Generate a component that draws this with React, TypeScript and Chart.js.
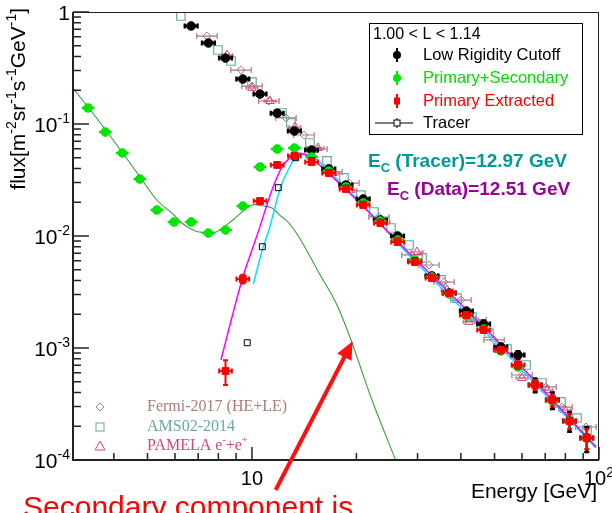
import React, { useEffect, useRef } from "react";
import { Chart, registerables } from "chart.js";

Chart.register(...registerables);

// ---------------- data ----------------
const energyBins = [3.37, 3.78, 4.23, 4.75, 5.32, 5.96, 6.68, 7.49, 8.39, 9.41, 10.55, 11.82, 13.25, 14.85, 16.65, 18.66, 20.92, 23.44, 26.28, 29.46, 33.02, 37.01, 41.48, 46.5, 52.12, 58.42, 65.48, 73.39, 82.27, 92.21];

// Low Rigidity Cutoff (bins 6..29)
const lowCutoffFlux = [0.75, 0.529, 0.388, 0.252, 0.185, 0.125, 0.0866, 0.0586, 0.0397, 0.0285, 0.0214, 0.0139, 0.01, 0.00598, 0.0044, 0.0031, 0.00214, 0.00164, 0.00102, 0.000866, 0.000468, 0.000343, 0.000223, 0.000157];
const lowCutoffErr = [0.04, 0.04, 0.04, 0.04, 0.04, 0.04, 0.04, 0.04, 0.04, 0.04, 0.04, 0.04, 0.05, 0.05, 0.05, 0.05, 0.06, 0.06, 0.07, 0.08, 0.14, 0.17, 0.2, 0.25];

// Primary+Secondary (bins 0..29)
const primSecFlux = [0.139, 0.0848, 0.0551, 0.0323, 0.01706, 0.01334, 0.01334, 0.01064, 0.01132, 0.01852, 0.0413, 0.0598, 0.061, 0.0507, 0.038, 0.0274, 0.01971, 0.01361, 0.00921, 0.0061, 0.00431, 0.00304, 0.00193, 0.00148, 0.00094, 0.000676, 0.000468, 0.000336, 0.000223, 0.000157];
const primSecErr = [0.04, 0.04, 0.04, 0.04, 0.04, 0.04, 0.04, 0.04, 0.04, 0.04, 0.04, 0.04, 0.04, 0.04, 0.04, 0.04, 0.04, 0.04, 0.04, 0.04, 0.05, 0.05, 0.05, 0.06, 0.06, 0.07, 0.08, 0.1, 0.12, 0.15];

// Primary Extracted (bins 8..29)
const primExtFlux = [0.000623, 0.00413, 0.02054, 0.0431, 0.0518, 0.0458, 0.0365, 0.0263, 0.0189, 0.01306, 0.00884, 0.00586, 0.00422, 0.0031, 0.00197, 0.00145, 0.00096, 0.000705, 0.000468, 0.000343, 0.000223, 0.000157];
const primExtErr = [0.25, 0.09, 0.06, 0.05, 0.05, 0.05, 0.05, 0.05, 0.05, 0.05, 0.05, 0.05, 0.05, 0.05, 0.06, 0.06, 0.07, 0.08, 0.1, 0.12, 0.15, 0.2];

// Tracer points
const tracerE = [9.69, 10.71, 11.91, 13.36, 14.85, 16.65, 18.66, 20.92, 23.44, 26.28, 29.46, 33.02, 37.01, 41.48, 46.5, 52.12, 58.42, 65.48, 73.39, 82.27, 92.21];
const tracerFlux = [0.001114, 0.00802, 0.027, 0.05, 0.047, 0.037, 0.0268, 0.0192, 0.0133, 0.009, 0.006, 0.00428, 0.00312, 0.002, 0.00147, 0.00098, 0.00071, 0.00048, 0.00035, 0.000226, 0.00016];

// Fits
const dataFitE = [8.14, 8.76, 9.36, 10.0, 10.47, 11.42, 12.2, 12.95, 13.39, 14.31, 17.81, 27.79, 51.51, 98.0];
const dataFitFlux = [0.000781, 0.00189, 0.00405, 0.0075, 0.01132, 0.0258, 0.0413, 0.0507, 0.0551, 0.0529, 0.0297, 0.0075, 0.00111, 0.000131];
const tracerFitE = [10.09, 10.71, 11.19, 12.1, 12.79, 13.51, 14.12, 17.81, 27.79, 51.51, 98.0];
const tracerFitFlux = [0.00371, 0.0075, 0.01132, 0.0275, 0.0402, 0.0529, 0.054, 0.031, 0.0072, 0.00104, 0.000128];
const secondaryE = [3.03, 3.37, 3.77, 4.22, 4.76, 5.32, 5.96, 6.28, 6.67, 7.04, 7.88, 8.87, 10.0, 10.83, 11.42, 12.2, 12.79, 13.66, 14.89, 15.6, 17.47, 19.29, 22.17, 26.0];
const secondaryFlux = [0.214, 0.1418, 0.0902, 0.0562, 0.0336, 0.02096, 0.0154, 0.01306, 0.01155, 0.01086, 0.01086, 0.01419, 0.0189, 0.01852, 0.01778, 0.01478, 0.01306, 0.0098, 0.0061, 0.00468, 0.00252, 0.00118, 0.000343, 0.000098];

// Other experiments
const fermiE = [7.42, 9.3, 10.0, 11.19, 12.53, 14.12, 15.39, 17.0, 19.03, 23.23, 28.92, 32.36, 35.76, 40.02, 44.21, 49.83, 60.01, 70.37, 78.26, 91.73];
const fermiFlux = [0.61, 0.303, 0.218, 0.1604, 0.1132, 0.0798, 0.0598, 0.0373, 0.0297, 0.01478, 0.00677, 0.00551, 0.00388, 0.00268, 0.00178, 0.00118, 0.000574, 0.000449, 0.000297, 0.000197];
const amsE = [6.24, 7.98, 8.7, 10.0, 12.2, 12.95, 14.69, 16.45, 18.41, 20.61, 22.47, 25.15, 28.35, 30.9, 35.05, 38.97, 43.05, 48.19, 54.32, 61.62, 68.49, 77.7, 86.44, 92.35];
const amsFlux = [0.921, 0.458, 0.365, 0.237, 0.1254, 0.1021, 0.0677, 0.0468, 0.033, 0.0232, 0.01638, 0.01179, 0.00831, 0.00637, 0.00405, 0.00279, 0.00189, 0.00136, 0.00098, 0.000705, 0.000487, 0.00033, 0.000237, 0.000185];
const pamelaE = [8.47, 10.0, 11.27, 13.3, 15.5, 17.12, 19.29, 24.01, 29.89, 36.48, 42.22, 51.51, 60.01, 70.83, 79.8];
const pamelaFlux = [0.413, 0.21, 0.1604, 0.094, 0.061, 0.0365, 0.0258, 0.01334, 0.0072, 0.0033, 0.00171, 0.00096, 0.00054, 0.000422, 0.000279];

// Axis
const xMin = 3.05, xMax = 100, yMin = 1e-4, yMax = 1;
const yDecades = [-4, -3, -2, -1, 0];
const xMajor = [10, 100];
const xMinor = [4, 5, 6, 7, 8, 9, 20, 30, 40, 50, 60, 70, 80, 90];

// Texts
const legendTitle = "1.00 < L < 1.14";
const legendLabels = ["Low Rigidity Cutoff", "Primary+Secondary", "Primary Extracted", "Tracer"];
const expLabels = ["Fermi-2017 (HE+LE)", "AMS02-2014", "PAMELA e"];
const ecTracer = " (Tracer)=12.97 GeV";
const ecData = " (Data)=12.51 GeV";
const arrowTail = [11.7, 5.4e-5];
const arrowTip = [19.5, 1.15e-3];

// ---------------- styles ----------------
const SANS = '"Liberation Sans", Arial, Helvetica, sans-serif';
const SERIF = '"Liberation Serif", "Times New Roman", serif';
const BIN_HALF = 1.043;

const C_BLACK = "#000000";
const C_GREEN = "#00e600";
const C_RED = "#ff0000";
const C_FERMI = "#b07a7a";
const C_AMS = "#6aa8a8";
const C_PAM = "#d2487c";

type Part = [string, number];

function drawParts(ctx: CanvasRenderingContext2D, parts: Part[], x: number, y: number, size: number, small: number, weight = "", measureOnly = false) {
  let cx = x;
  for (const [t, k] of parts) {
    const s = k === 0 ? size : small;
    ctx.font = `${weight} ${s}px ${SANS}`;
    const dy = k === 1 ? -size * 0.42 : k === -1 ? size * 0.28 : 0;
    if (!measureOnly) ctx.fillText(t, cx, y + dy);
    cx += ctx.measureText(t).width;
  }
  return cx - x;
}

const errorBarPlugin = {
  id: "errbars",
  beforeDatasetDraw(chart: any, args: any) {
    const ds: any = chart.data.datasets[args.index];
    if (!ds.errY && !ds.errX) return;
    const { ctx, chartArea: a } = chart;
    const xs = chart.scales.x, ys = chart.scales.y;
    ctx.save();
    ctx.beginPath();
    ctx.rect(a.left, a.top, a.right - a.left, a.bottom - a.top);
    ctx.clip();
    ctx.strokeStyle = ds.errColor;
    ctx.lineWidth = ds.errWidth || 1.5;
    const cap = ds.errCap ?? 2.5;
    ds.data.forEach((p: any, i: number) => {
      const px = xs.getPixelForValue(p.x), py = ys.getPixelForValue(p.y);
      ctx.beginPath();
      if (ds.errX) {
        const x0 = xs.getPixelForValue(p.x / ds.errX), x1 = xs.getPixelForValue(p.x * ds.errX);
        ctx.moveTo(x0, py); ctx.lineTo(x1, py);
        if (cap) { ctx.moveTo(x0, py - cap); ctx.lineTo(x0, py + cap); ctx.moveTo(x1, py - cap); ctx.lineTo(x1, py + cap); }
      }
      if (ds.errY) {
        const e = ds.errY[i];
        const y0 = ys.getPixelForValue(p.y * (1 + e)), y1 = ys.getPixelForValue(p.y * (1 - e));
        ctx.moveTo(px, y0); ctx.lineTo(px, y1);
        if (cap) { ctx.moveTo(px - cap, y0); ctx.lineTo(px + cap, y0); ctx.moveTo(px - cap, y1); ctx.lineTo(px + cap, y1); }
      }
      ctx.stroke();
    });
    ctx.restore();
  },
};

const decorPlugin = {
  id: "decor",
  beforeDraw(chart: any) {
    const ctx = chart.ctx;
    ctx.save();
    ctx.fillStyle = "#fff";
    ctx.fillRect(0, 0, chart.width, chart.height);
    ctx.restore();
  },
  afterDraw(chart: any) {
    const { ctx, chartArea: a } = chart;
    const X = (v: number) => chart.scales.x.getPixelForValue(v);
    const Y = (v: number) => chart.scales.y.getPixelForValue(v);
    ctx.save();
    // frame
    ctx.strokeStyle = "#222";
    ctx.lineWidth = 1;
    ctx.strokeRect(a.left + 0.5, a.top + 0.5, a.right - a.left - 1, a.bottom - a.top - 1);
    ctx.lineWidth = 2;
    ctx.beginPath();
    ctx.moveTo(a.left, a.top); ctx.lineTo(a.left, a.bottom); ctx.lineTo(a.right, a.bottom);
    ctx.stroke();
    // ticks
    ctx.lineWidth = 1.5;
    ctx.beginPath();
    for (const d of yDecades) {
      const y = Y(Math.pow(10, d));
      ctx.moveTo(a.left, y); ctx.lineTo(a.left + 16, y);
      if (d < 0) {
        for (let k = 2; k <= 9; k++) {
          const yy = Y(k * Math.pow(10, d));
          ctx.moveTo(a.left, yy); ctx.lineTo(a.left + 8, yy);
        }
      }
    }
    for (const v of xMajor) { const x = X(v); ctx.moveTo(x, a.bottom); ctx.lineTo(x, a.bottom - 13); }
    for (const v of xMinor) { const x = X(v); ctx.moveTo(x, a.bottom); ctx.lineTo(x, a.bottom - 7); }
    ctx.stroke();

    // y tick labels
    ctx.fillStyle = "#000";
    ctx.textBaseline = "alphabetic";
    ctx.textAlign = "left";
    for (const d of yDecades) {
      const y = Y(Math.pow(10, d));
      if (d === 0) {
        ctx.font = `21px ${SANS}`;
        const w = ctx.measureText("1").width;
        ctx.fillText("1", 70 - w, y + 8);
      } else {
        const parts: Part[] = [["10", 0], [String(d), 1]];
        const w = drawParts(ctx, parts, 0, 0, 21, 14, "", true);
        drawParts(ctx, parts, 70 - w, y + 8, 21, 14);
      }
    }
    // x tick labels
    {
      const p1: Part[] = [["10", 0]];
      const w1 = drawParts(ctx, p1, 0, 0, 20, 14, "", true);
      drawParts(ctx, p1, X(10) - w1 / 2, 485, 20, 14);
      const p2: Part[] = [["10", 0], ["2", 1]];
      const w2 = drawParts(ctx, p2, 0, 0, 20, 14, "", true);
      drawParts(ctx, p2, X(100) - w2 / 2, 485, 20, 14);
    }
    // x title
    ctx.font = `21px ${SANS}`;
    ctx.textAlign = "right";
    ctx.fillText("Energy [GeV]", 597, 498);
    ctx.textAlign = "left";
    // y title
    {
      const parts: Part[] = [["flux[m", 0], ["-2", 1], ["sr", 0], ["-1", 1], ["s", 0], ["-1", 1], ["GeV", 0], ["-1", 1], ["]", 0]];
      const w = drawParts(ctx, parts, 0, 0, 21, 14, "", true);
      ctx.save();
      ctx.translate(25, 8 + w);
      ctx.rotate(-Math.PI / 2);
      drawParts(ctx, parts, 0, 0, 21, 14);
      ctx.restore();
    }

    // legend box
    ctx.fillStyle = "#fff";
    ctx.fillRect(369, 23, 214, 112);
    ctx.strokeStyle = "#000";
    ctx.lineWidth = 1;
    ctx.strokeRect(369.5, 23.5, 213, 111);
    ctx.fillStyle = "#000";
    ctx.font = `16px ${SANS}`;
    ctx.textBaseline = "middle";
    ctx.fillText(legendTitle, 373, 35);
    const rowsY = [55, 78, 101, 123];
    const cols = [C_BLACK, "#00dd00", C_RED, C_BLACK];
    const mx = 397;
    legendLabels.forEach((t, i) => {
      ctx.fillStyle = cols[i];
      ctx.font = `16.5px ${SANS}`;
      ctx.fillText(t, 423, rowsY[i]);
    });
    ctx.lineWidth = 2;
    ctx.strokeStyle = C_BLACK; ctx.fillStyle = C_BLACK;
    ctx.beginPath(); ctx.moveTo(mx, rowsY[0] - 7); ctx.lineTo(mx, rowsY[0] + 7); ctx.stroke();
    ctx.beginPath(); ctx.arc(mx, rowsY[0], 4, 0, Math.PI * 2); ctx.fill();
    ctx.strokeStyle = C_GREEN; ctx.fillStyle = C_GREEN;
    ctx.beginPath(); ctx.moveTo(mx, rowsY[1] - 7); ctx.lineTo(mx, rowsY[1] + 7); ctx.stroke();
    ctx.beginPath(); ctx.arc(mx, rowsY[1], 4, 0, Math.PI * 2); ctx.fill();
    ctx.strokeStyle = C_RED; ctx.fillStyle = C_RED;
    ctx.beginPath(); ctx.moveTo(mx, rowsY[2] - 7); ctx.lineTo(mx, rowsY[2] + 7); ctx.stroke();
    ctx.fillRect(mx - 3, rowsY[2] - 3.5, 6, 7);
    ctx.strokeStyle = C_BLACK; ctx.lineWidth = 1;
    ctx.beginPath(); ctx.moveTo(375, rowsY[3]); ctx.lineTo(413, rowsY[3]);
    ctx.moveTo(mx, rowsY[3] - 5); ctx.lineTo(mx, rowsY[3] + 5); ctx.stroke();
    ctx.fillStyle = "#fff"; ctx.fillRect(mx - 3, rowsY[3] - 3, 6, 6);
    ctx.strokeRect(mx - 3, rowsY[3] - 3, 6, 6);

    // Ec texts
    ctx.textBaseline = "alphabetic";
    ctx.fillStyle = "#009999";
    drawParts(ctx, [["E", 0], ["C", -1], [ecTracer, 0]], 368, 167, 19, 13, "bold");
    ctx.fillStyle = "#990099";
    drawParts(ctx, [["E", 0], ["C", -1], [ecData, 0]], 387, 195, 19, 13, "bold");

    // experiments legend (bottom left)
    const ey = [407, 427, 446];
    const ecols = [C_FERMI, C_AMS, C_PAM];
    ctx.textBaseline = "middle";
    expLabels.forEach((t, i) => {
      ctx.fillStyle = ecols[i];
      ctx.font = `16px ${SERIF}`;
      ctx.fillText(t, 147, ey[i]);
      if (i === 2) {
        let w = ctx.measureText(t).width;
        ctx.font = `10px ${SERIF}`;
        ctx.fillText("-", 147 + w, ey[i] - 6);
        w += ctx.measureText("-").width;
        ctx.font = `16px ${SERIF}`;
        ctx.fillText("+e", 147 + w, ey[i]);
        w += ctx.measureText("+e").width;
        ctx.font = `10px ${SERIF}`;
        ctx.fillText("+", 147 + w, ey[i] - 6);
      }
    });
    ctx.lineWidth = 1;
    ctx.strokeStyle = C_FERMI;
    ctx.beginPath(); ctx.moveTo(100, ey[0] - 4); ctx.lineTo(104, ey[0]); ctx.lineTo(100, ey[0] + 4); ctx.lineTo(96, ey[0]); ctx.closePath(); ctx.stroke();
    ctx.strokeStyle = C_AMS;
    ctx.strokeRect(96, ey[1] - 4, 8, 8);
    ctx.strokeStyle = C_PAM;
    ctx.beginPath(); ctx.moveTo(100, ey[2] - 5); ctx.lineTo(105, ey[2] + 4); ctx.lineTo(95, ey[2] + 4); ctx.closePath(); ctx.stroke();

    // arrow
    {
      const x0 = X(arrowTail[0]), y0 = Y(arrowTail[1]);
      const x1 = X(arrowTip[0]), y1 = Y(arrowTip[1]);
      const dx = x1 - x0, dy = y1 - y0, L = Math.hypot(dx, dy);
      const ux = dx / L, uy = dy / L;
      const hl = 18, hw = 8;
      ctx.strokeStyle = "#ff1010"; ctx.fillStyle = "#ff1010";
      ctx.lineWidth = 4;
      ctx.beginPath(); ctx.moveTo(x0, y0); ctx.lineTo(x1 - ux * hl * 0.8, y1 - uy * hl * 0.8); ctx.stroke();
      ctx.beginPath();
      ctx.moveTo(x1, y1);
      ctx.lineTo(x1 - ux * hl - uy * hw, y1 - uy * hl + ux * hw);
      ctx.lineTo(x1 - ux * hl + uy * hw, y1 - uy * hl - ux * hw);
      ctx.closePath(); ctx.fill();
    }
    // bottom caption
    ctx.fillStyle = "#ff0000";
    ctx.textBaseline = "alphabetic";
    ctx.font = `30px ${SANS}`;
    ctx.fillText("Secondary component is", 23, 517);
    ctx.restore();
  },
};

export default function App() {
  const ref = useRef<HTMLCanvasElement>(null);
  useEffect(() => {
    const pts = (xs: number[], ys: number[]) => xs.map((x, i) => ({ x, y: ys[i] }));
    const hollow = "rgba(0,0,0,0)";
    const datasets: any[] = [
      { label: "Primary Extracted", data: pts(energyBins.slice(8), primExtFlux), pointStyle: "rect", pointRadius: 4.8, pointBackgroundColor: C_RED, pointBorderColor: C_RED, pointBorderWidth: 1, errX: BIN_HALF, errY: primExtErr, errColor: C_RED, errWidth: 2, errCap: 2.5 },
      { label: "Tracer", data: pts(tracerE, tracerFlux), pointStyle: "rect", pointRadius: 4.2, pointBackgroundColor: hollow, pointBorderColor: "#000", pointBorderWidth: 1 },
      { label: "Primary+Secondary", data: pts(energyBins, primSecFlux), pointStyle: "circle", pointRadius: 4.3, pointBackgroundColor: C_GREEN, pointBorderColor: C_GREEN, pointBorderWidth: 1, errX: BIN_HALF, errY: primSecErr, errColor: C_GREEN, errWidth: 2.5, errCap: 0 },
      { label: "Low Rigidity Cutoff", data: pts(energyBins.slice(6), lowCutoffFlux), pointStyle: "circle", pointRadius: 4.3, pointBackgroundColor: C_BLACK, pointBorderColor: C_BLACK, pointBorderWidth: 1, errX: BIN_HALF, errY: lowCutoffErr, errColor: C_BLACK, errWidth: 2.5, errCap: 2.5 },
      { label: "Data fit", data: pts(dataFitE, dataFitFlux), showLine: true, pointRadius: 0, borderColor: "#ff00ff", borderWidth: 1.5, cubicInterpolationMode: "monotone" },
      { label: "Tracer fit", data: pts(tracerFitE, tracerFitFlux), showLine: true, pointRadius: 0, borderColor: "#00e5ff", borderWidth: 1.5, cubicInterpolationMode: "monotone" },
      { label: "Secondary", data: pts(secondaryE, secondaryFlux), showLine: true, pointRadius: 0, borderColor: "#3c9e3c", borderWidth: 1.1, tension: 0.3 },
      { label: "PAMELA", data: pts(pamelaE, pamelaFlux), pointStyle: "triangle", pointRadius: 5, pointBackgroundColor: hollow, pointBorderColor: C_PAM, pointBorderWidth: 1, errX: 1.04, errColor: C_PAM, errWidth: 1, errCap: 2 },
      { label: "AMS02", data: pts(amsE, amsFlux), pointStyle: "rect", pointRadius: 6, pointBackgroundColor: hollow, pointBorderColor: C_AMS, pointBorderWidth: 1.2 },
      { label: "Fermi", data: pts(fermiE, fermiFlux), pointStyle: "rectRot", pointRadius: 4, pointBackgroundColor: hollow, pointBorderColor: C_FERMI, pointBorderWidth: 1, errX: 1.07, errColor: C_FERMI, errWidth: 1.2, errCap: 3 },
    ];
    const chart = new Chart(ref.current as HTMLCanvasElement, {
      type: "scatter",
      data: { datasets },
      options: {
        responsive: false,
        maintainAspectRatio: false,
        animation: false,
        events: [],
        layout: { padding: { left: 73, right: 13, top: 12, bottom: 53 } },
        scales: {
          x: { type: "logarithmic", min: xMin, max: xMax, display: false },
          y: { type: "logarithmic", min: yMin, max: yMax, display: false },
        },
        plugins: { legend: { display: false }, tooltip: { enabled: false } },
      } as any,
      plugins: [errorBarPlugin as any, decorPlugin as any],
    });
    return () => chart.destroy();
  }, []);
  return (
    <div style={{ position: "absolute", left: 0, top: 0, width: 612, height: 513, background: "#fff", overflow: "hidden" }}>
      <canvas ref={ref} width={612} height={513} style={{ display: "block" }} />
    </div>
  );
}
